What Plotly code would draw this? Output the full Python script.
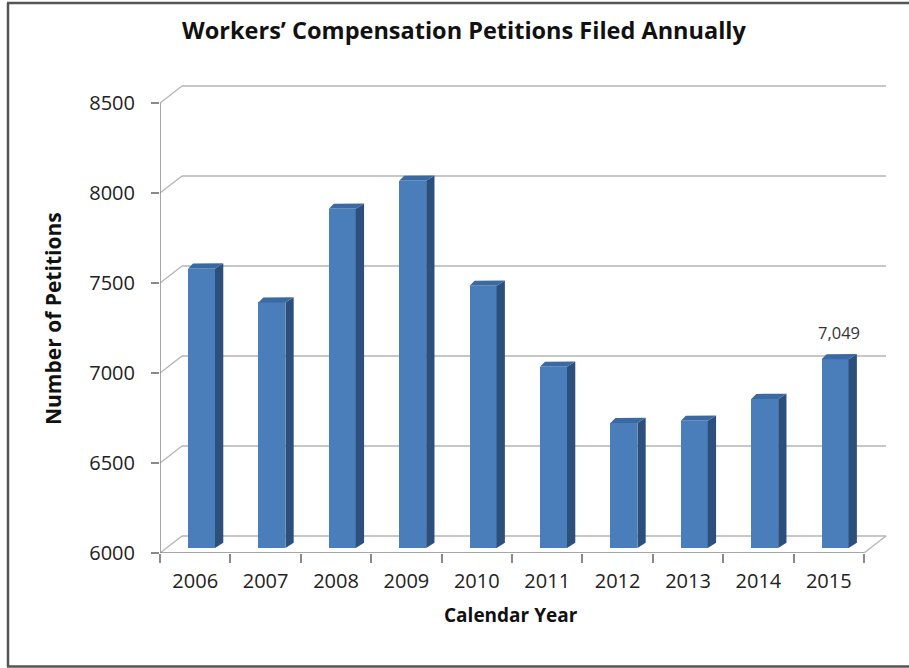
import plotly.graph_objects as go

# ---- data ----
years = ["2006", "2007", "2008", "2009", "2010", "2011", "2012", "2013", "2014", "2015"]
petitions = [7552, 7364, 7885, 8040, 7457, 7007, 6694, 6707, 6828, 7049]
y_ticks = [6000, 6500, 7000, 7500, 8000, 8500]
labeled_year = "2015"

title_text = "Workers\u2019 Compensation Petitions Filed Annually"
x_title = "Calendar Year"
y_title = "Number of Petitions"

# ---- geometry / style (pixel-based layout) ----
W, H = 909, 668
PL, PR, PT, PB = 160, 890, 83, 553          # plot area in pixels
CAT_PX = 70.4                                # pixels per category
Y_PX = 0.18                                  # pixels per petition unit
Y0 = 6000
x_lo = -0.5
x_hi = x_lo + (PR - PL) / CAT_PX
y_hi = Y0 + (PB - PT) / Y_PX

DX = 22 / CAT_PX        # depth offset (back wall) in category units
DY = 17 / Y_PX          # depth offset in value units
BAR_DY = 5 / Y_PX       # bar plane above front plane
BAR_L, BAR_W = -0.102, 0.383
SIDE_DX, SIDE_DY = 8.3 / CAT_PX, 5.3 / Y_PX
TOP_LDX = 5 / CAT_PX

FRONT = "#4a7ebb"
SIDE = "#2c4f7c"
TOPC = "#3b69a2"
GRID = "#b4b4b4"
AXIS = "#8a8a8a"
FONT = "Open Sans"

n = len(years)
xs = list(range(n))

fig = go.Figure()

# front faces
fig.add_trace(go.Bar(
    x=xs, y=[v - Y0 for v in petitions], base=[Y0 + BAR_DY] * n,
    width=BAR_W, offset=BAR_L, marker=dict(color=FRONT, line=dict(width=0)),
    hoverinfo="skip", showlegend=False))

# side faces and top faces
sx, sy, tx, ty = [], [], [], []
for i, v in enumerate(petitions):
    xl = i + BAR_L
    xr = xl + BAR_W
    top = v + BAR_DY
    base = Y0 + BAR_DY
    sx += [xr, xr, xr + SIDE_DX, xr + SIDE_DX, xr, None]
    sy += [base, top, top + SIDE_DY, base + SIDE_DY, base, None]
    tx += [xl, xr, xr + SIDE_DX, xl + TOP_LDX, xl, None]
    ty += [top, top, top + SIDE_DY, top + SIDE_DY * 0.95, top, None]
fig.add_trace(go.Scatter(x=sx, y=sy, mode="lines", fill="toself", fillcolor=SIDE,
                         line=dict(width=0, color=SIDE), hoverinfo="skip", showlegend=False))
fig.add_trace(go.Scatter(x=tx, y=ty, mode="lines", fill="toself", fillcolor=TOPC,
                         line=dict(width=0, color=TOPC), hoverinfo="skip", showlegend=False))

shapes = []
# back-wall gridlines and left-wall diagonals
for t in y_ticks:
    shapes.append(dict(type="line", xref="x", yref="y", x0=x_lo + DX, x1=x_lo + n + DX,
                       y0=t + DY, y1=t + DY, line=dict(color=GRID, width=1.6), layer="below"))
    shapes.append(dict(type="line", xref="x", yref="y", x0=x_lo, x1=x_lo + DX,
                       y0=t, y1=t + DY, line=dict(color=GRID, width=1.3), layer="below"))
# floor
shapes.append(dict(type="line", xref="x", yref="y", x0=x_lo + n, x1=x_lo + n + DX,
                   y0=Y0, y1=Y0 + DY, line=dict(color=GRID, width=1.3), layer="below"))
# front axes
shapes.append(dict(type="line", xref="x", yref="y", x0=x_lo, x1=x_lo + n, y0=Y0, y1=Y0,
                   line=dict(color=AXIS, width=1.5)))
shapes.append(dict(type="line", xref="x", yref="y", x0=x_lo, x1=x_lo, y0=Y0, y1=y_ticks[-1],
                   line=dict(color=AXIS, width=1.5)))

# outer border (paper coords from pixels)
def px(xp):
    return (xp - PL) / (PR - PL)
def py(yp):
    return (PB - yp) / (PB - PT)
shapes.append(dict(type="line", xref="paper", yref="paper", x0=px(7), x1=px(W + 2),
                   y0=py(3), y1=py(3), line=dict(color="#555555", width=2.5)))
shapes.append(dict(type="line", xref="paper", yref="paper", x0=px(8), x1=px(8),
                   y0=py(3), y1=py(667), line=dict(color="#555555", width=2.5)))
shapes.append(dict(type="line", xref="paper", yref="paper", x0=px(7), x1=px(W + 2),
                   y0=py(666.5), y1=py(666.5), line=dict(color="#555555", width=2.5)))

annotations = []
# data label
k = years.index(labeled_year)
annotations.append(dict(x=k + BAR_L + BAR_W / 2 + SIDE_DX / 2, y=petitions[k] + BAR_DY,
                        xref="x", yref="y", text=f"{petitions[k]:,}", showarrow=False,
                        yanchor="middle", yshift=27,
                        font=dict(family=FONT, size=16.5, color="#333333")))
# axis titles
annotations.append(dict(x=px(511), y=py(615), xref="paper", yref="paper", text=f"<b>{x_title}</b>",
                        showarrow=False, yanchor="middle", xanchor="center",
                        font=dict(family=FONT, size=19, color="#111111")))
annotations.append(dict(x=px(53), y=py(319), xref="paper", yref="paper", text=f"<b>{y_title}</b>",
                        showarrow=False, yanchor="middle", xanchor="center", textangle=-90,
                        font=dict(family=FONT, size=21, color="#111111")))

fig.update_layout(
    width=W, height=H,
    margin=dict(l=PL, r=W - PR, t=PT, b=H - PB, pad=0),
    paper_bgcolor="white", plot_bgcolor="white",
    title=dict(text=f"<b>{title_text}</b>", x=464 / W, xanchor="center",
               y=1 - 31 / H, yanchor="middle", yref="container",
               font=dict(family=FONT, size=23.5, color="#111111")),
    shapes=shapes, annotations=annotations, bargap=0,
    xaxis=dict(range=[x_lo, x_hi], tickvals=xs, ticktext=years, ticks="",
               showgrid=False, zeroline=False, showline=False, ticklabelstandoff=14,
               tickfont=dict(family=FONT, size=20, color="#222222"),
               minor=dict(tickvals=[x_lo + j for j in range(n + 1)], ticks="outside",
                          ticklen=9, tickcolor=AXIS, tickwidth=1.5, showgrid=False),
               fixedrange=True),
    yaxis=dict(range=[Y0, y_hi], tickvals=y_ticks, ticktext=[str(t) for t in y_ticks],
               ticks="outside", ticklen=8, tickcolor=AXIS, tickwidth=1.5,
               showgrid=False, zeroline=False, showline=False, ticklabelstandoff=12,
               tickfont=dict(family=FONT, size=20, color="#222222"), fixedrange=True),
)

fig.write_html("out.html")
